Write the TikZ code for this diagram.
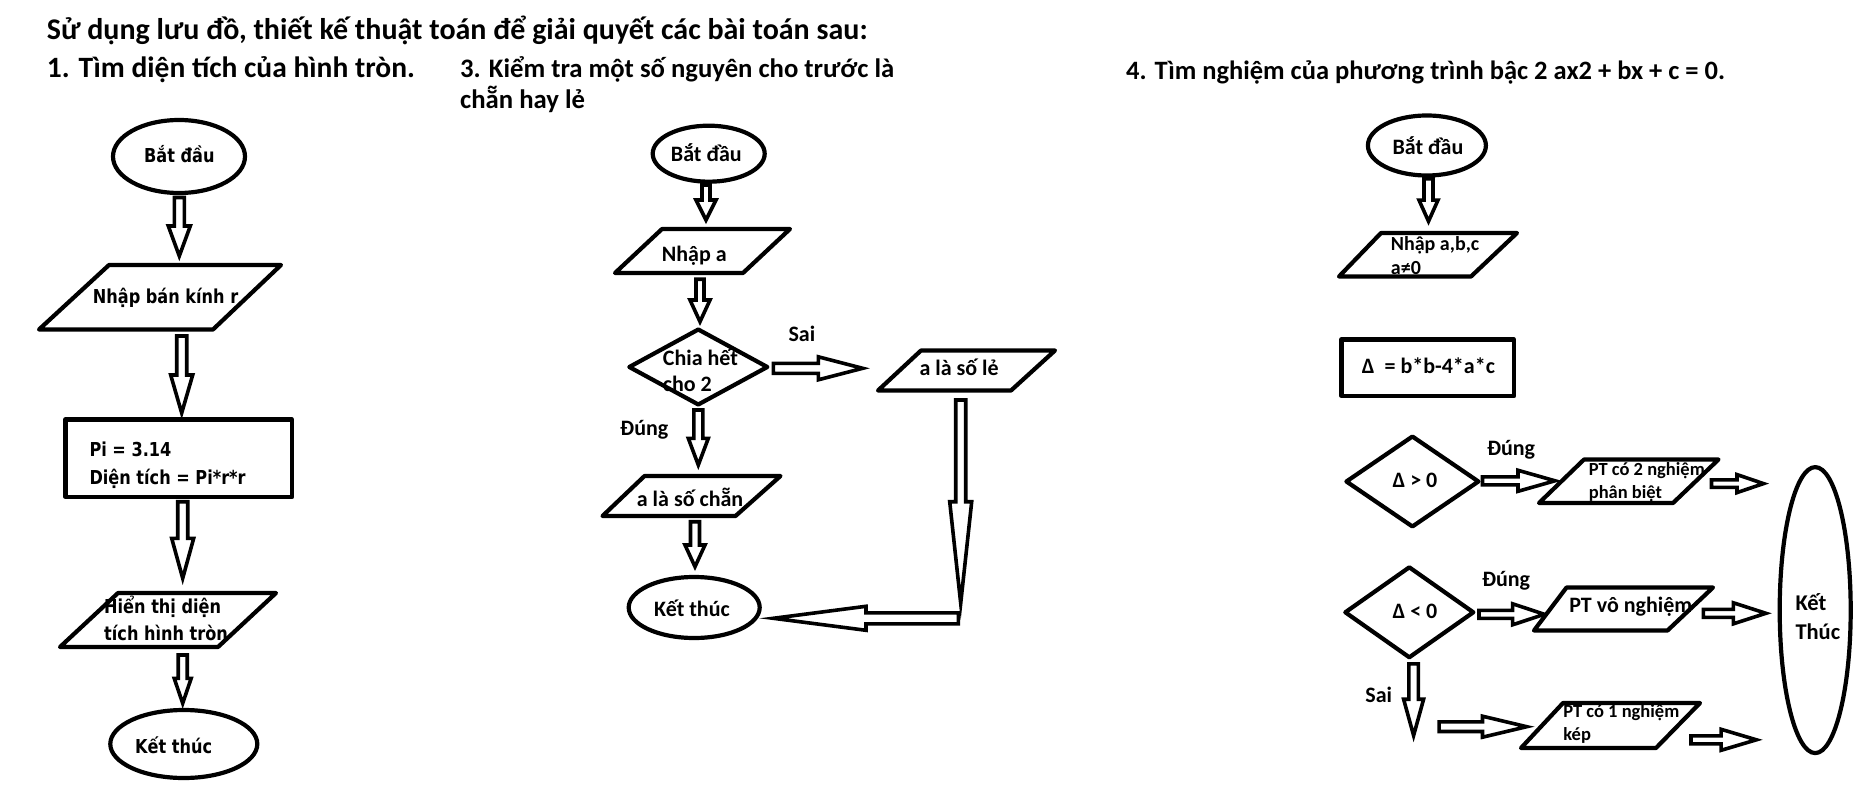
\documentclass[tikz,border=0pt]{standalone}
\usepackage{fontspec}
\setmainfont{Carlito}
\newfontface\tahbold[FakeStretch=0.84]{DejaVu Sans Bold}
\usetikzlibrary{calc,shapes.geometric}

\newcommand\blockarrow[5]{%
  \path ($(#2)!#5!(#1)$) coordinate (bahead);
  \draw[barrow] ($(#1)!#3!90:(#2)$) -- ($(bahead)!#3!90:(#2)$) -- ($(bahead)!#4!90:(#2)$) -- (#2)
     -- ($(bahead)!#4!-90:(#2)$) -- ($(bahead)!#3!-90:(#2)$) -- ($(#1)!#3!-90:(#2)$) -- cycle;
}

\tikzset{
  shp/.style={draw=black, line width=4.2pt, line join=round, fill=white, inner sep=0pt},
  barrow/.style={draw=black, line width=3.6pt, line join=miter, fill=white},
  hd/.style={inner sep=0pt, anchor=base west, font=\bfseries\fontsize{29.5}{32.7}\selectfont, align=left},
  ta/.style={inner sep=0pt, anchor=base west, font=\tahbold\fontsize{19.2}{28}\selectfont, align=left},
  ca/.style={inner sep=0pt, anchor=base west, font=\bfseries\fontsize{22}{26}\selectfont, align=left},
  cs/.style={inner sep=0pt, anchor=base west, font=\bfseries\fontsize{18.5}{22.5}\selectfont, align=left}
}

\begin{document}
\begin{tikzpicture}[x=1pt,y=-1pt]
\useasboundingbox[fill=white] (0,0) rectangle (1874,802);

% ---------------- headings
\node[hd, font=\bfseries\fontsize{30}{33}\selectfont] (h0) at (46.7,40) {Sử dụng lưu đồ, thiết kế thuật toán để giải quyết các bài toán sau:};
\node[hd] (h1) at (46.7,77.3) {1. Tìm diện tích của hình tròn.};
\node[hd, font=\bfseries\fontsize{26.7}{31}\selectfont] (h3) at (460,108.3) {3. Kiểm tra một số nguyên cho trước là\\chẵn hay lẻ};
\node[hd, font=\bfseries\fontsize{26.5}{30}\selectfont] (h4) at (1126,80) {4. Tìm nghiệm của phương trình bậc 2 ax2 + bx + c = 0.};

% ---------------- diagram 1
\node[shp, ellipse, minimum width=132pt, minimum height=73pt] (e1) at (179,156.5) {};
\node[ta] (e1t) at (144,163) {Bắt đầu};
\coordinate (a1s) at (179.3,197.5); \coordinate (a1e) at (179.3,256);
\blockarrow{a1s}{a1e}{5pt}{11pt}{30pt}
\draw[shp] (109,265) -- (281,265) -- (213,329.5) -- (39,329.5) -- cycle;
\node[ta] (p1t) at (92.7,303.3) {Nhập bán kính r};
\coordinate (a2s) at (181.7,336); \coordinate (a2e) at (181.7,413);
\blockarrow{a2s}{a2e}{5pt}{11pt}{38pt}
\node[shp, rectangle, minimum width=226.5pt, minimum height=77.5pt] (r1) at (178.75,458.25) {};
\node[ta] (r1t) at (89.3,484.7) {Pi = 3.14\\Diện tích = Pi*r*r};
\coordinate (a3s) at (182.7,501.7); \coordinate (a3e) at (182.7,578.3);
\blockarrow{a3s}{a3e}{5pt}{11pt}{40pt}
\draw[shp] (118,593) -- (276,593) -- (218,647) -- (60,647) -- cycle;
\node[ta, font=\tahbold\fontsize{19.2}{27.4}\selectfont] (p2t) at (104,640.7) {Hiển thị diện\\tích hình tròn};
\coordinate (a4s) at (182.7,655); \coordinate (a4e) at (182.7,703.3);
\blockarrow{a4s}{a4e}{4.5pt}{8.5pt}{25pt}
\node[shp, ellipse, minimum width=147pt, minimum height=68pt] (e2) at (183.8,744) {};
\node[ta] (e2t) at (135,753.3) {Kết thúc};

% ---------------- diagram 2
\node[shp, ellipse, minimum width=112pt, minimum height=56pt] (e3) at (708.7,153.7) {};
\node[ca] (e3t) at (670.7,161.7) {Bắt đầu};
\coordinate (a5s) at (706,185); \coordinate (a5e) at (706,220);
\blockarrow{a5s}{a5e}{4pt}{10pt}{20pt}
\draw[shp] (662,229) -- (790,229) -- (743,273) -- (615,273) -- cycle;
\node[ca] (p3t) at (661.7,261.7) {Nhập a};
\coordinate (a6s) at (700,279.3); \coordinate (a6e) at (700,321.7);
\blockarrow{a6s}{a6e}{4pt}{10pt}{21.7pt}
\draw[shp] (698.3,329.5) -- (767.3,367) -- (698.3,404.5) -- (629.3,367) -- cycle;
\node[ca] (d1t) at (662.7,391.7) {Chia hết\\cho 2};
\node[ca] (sai1) at (788.3,341.7) {Sai};
\coordinate (a7s) at (773.3,368.3); \coordinate (a7e) at (862.7,368.3);
\blockarrow{a7s}{a7e}{5pt}{11.5pt}{44.4pt}
\draw[shp] (921,350.5) -- (1055,350.5) -- (1011,390.5) -- (878,390.5) -- cycle;
\node[ca] (p4t) at (919.3,375) {a là số lẻ};
\coordinate (a8s) at (960.7,400); \coordinate (a8e) at (960.7,603.3);
\blockarrow{a8s}{a8e}{5pt}{11pt}{101.6pt}
\coordinate (a9s) at (958.3,618.3); \coordinate (a9e) at (773.3,618.3);
\blockarrow{a9s}{a9e}{5.5pt}{12pt}{92.7pt}
\node[ca] (dung1) at (620,435) {Đúng};
\coordinate (a10s) at (698.3,410); \coordinate (a10e) at (698.3,465);
\blockarrow{a10s}{a10e}{4.5pt}{10pt}{26.7pt}
\draw[shp] (644.5,476) -- (780.5,476) -- (735.5,516) -- (602.5,516) -- cycle;
\node[ca] (p5t) at (636.7,506) {a là số chẵn};
\coordinate (a11s) at (695,521.7); \coordinate (a11e) at (695,566.7);
\blockarrow{a11s}{a11e}{4.5pt}{10pt}{21.7pt}
\node[shp, ellipse, minimum width=131pt, minimum height=61pt] (e4) at (694.2,607.5) {};
\node[ca] (e4t) at (654,616.7) {Kết thúc};

% ---------------- diagram 4
\node[shp, ellipse, minimum width=118pt, minimum height=60pt] (e5) at (1426.9,145.5) {};
\node[ca] (e5t) at (1392.4,154.2) {Bắt đầu};
\coordinate (a12s) at (1428.5,178.9); \coordinate (a12e) at (1428.5,221.3);
\blockarrow{a12s}{a12e}{4.5pt}{9.5pt}{21.2pt}
\draw[shp] (1381,233) -- (1517,233) -- (1471,276.5) -- (1339,276.5) -- cycle;
\node[ca, font=\bfseries\fontsize{20}{24.4}\selectfont] (p6t) at (1390.7,275) {Nhập a,b,c\\a≠0};
\node[shp, rectangle, minimum width=172.5pt, minimum height=56.5pt] (r2) at (1427.75,367.75) {};
\node[ca] (r2t) at (1361.7,373.3) {Δ\ \ = b*b-4*a*c};
\draw[shp] (1412.4,436.5) -- (1478.4,481.5) -- (1412.4,526.5) -- (1346.4,481.5) -- cycle;
\node[ca] (d2t) at (1392.4,487.8) {Δ > 0};
\node[ca] (dung2) at (1486.8,455.3) {Đúng};
\coordinate (a13s) at (1482.5,480.8); \coordinate (a13e) at (1555,480.8);
\blockarrow{a13s}{a13e}{4pt}{10.5pt}{37pt}
\draw[shp] (1584,459.5) -- (1718.5,459.5) -- (1673,503) -- (1539,503) -- cycle;
\node[cs] (p7t) at (1588.6,498.4) {PT có 2 nghiệm\\phân biệt};
\coordinate (a14s) at (1711.5,483.6); \coordinate (a14e) at (1763.5,483.6);
\blockarrow{a14s}{a14e}{3.8pt}{9pt}{26.5pt}
\draw[shp] (1409.3,567.3) -- (1473.3,612.3) -- (1409.3,657.3) -- (1345.3,612.3) -- cycle;
\node[ca] (d3t) at (1392.4,618.6) {Δ < 0};
\node[ca] (dung3) at (1481.8,586) {Đúng};
\coordinate (a15s) at (1479,614.3); \coordinate (a15e) at (1544.4,614.3);
\blockarrow{a15s}{a15e}{4pt}{10.5pt}{31.8pt}
\draw[shp] (1566.5,587.5) -- (1713,587.5) -- (1667.5,630.5) -- (1534,630.5) -- cycle;
\node[ca] (p8t) at (1569.1,612.6) {PT vô nghiệm};
\coordinate (a16s) at (1703.4,613.3); \coordinate (a16e) at (1765.9,613.3);
\blockarrow{a16s}{a16e}{4pt}{10.5pt}{32.5pt}
\node[shp, ellipse, minimum width=71pt, minimum height=286pt] (e6) at (1815.2,610.1) {};
\node[ca, font=\bfseries\fontsize{22.5}{29}\selectfont] (e6t) at (1795.3,639.8) {Kết\\Thúc};
\coordinate (a17s) at (1413.6,663.8); \coordinate (a17e) at (1413.6,735.5);
\blockarrow{a17s}{a17e}{4.8pt}{10pt}{36.3pt}
\node[ca] (sai2) at (1365.2,702.7) {Sai};
\coordinate (a18s) at (1439.1,726.7); \coordinate (a18e) at (1526.7,726.7);
\blockarrow{a18s}{a18e}{4.8pt}{10.5pt}{44.2pt}
\draw[shp] (1563,703) -- (1700,703) -- (1656,748) -- (1521,748) -- cycle;
\node[cs] (p9t) at (1563.1,740) {PT có 1 nghiệm\\kép};
\coordinate (a19s) at (1691,739.8); \coordinate (a19e) at (1756.4,739.8);
\blockarrow{a19s}{a19e}{4pt}{10.5pt}{35.3pt}
\end{tikzpicture}
\end{document}
